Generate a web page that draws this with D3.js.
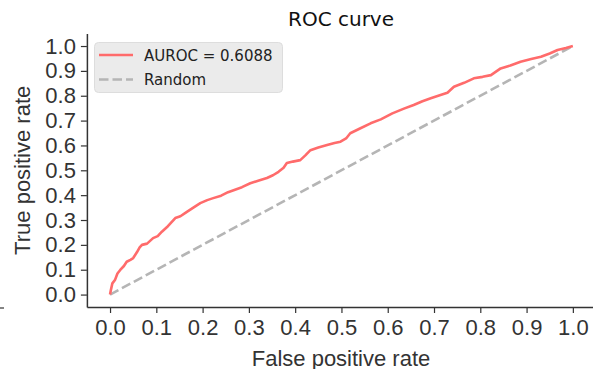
<!DOCTYPE html>
<html><head><meta charset="utf-8">
<script src="https://cdn.jsdelivr.net/npm/d3@7"></script>
<style>body{margin:0;background:#fff}svg{display:block}</style>
</head><body>
<svg id="c" width="593" height="369"></svg>
<script>
const fpr = [0,0.002,0.005,0.011,0.016,0.022,0.03,0.036,0.044,0.05,0.058,0.064,0.069,0.08,0.093,0.103,0.112,0.125,0.141,0.152,0.166,0.18,0.195,0.21,0.223,0.24,0.255,0.267,0.285,0.303,0.32,0.339,0.352,0.364,0.375,0.382,0.395,0.411,0.422,0.433,0.45,0.469,0.485,0.498,0.51,0.519,0.54,0.563,0.585,0.61,0.635,0.656,0.675,0.693,0.714,0.729,0.743,0.765,0.786,0.805,0.823,0.844,0.865,0.887,0.91,0.931,0.95,0.967,0.985,1];
const tpr = [0,0.02,0.045,0.06,0.085,0.099,0.115,0.132,0.14,0.147,0.17,0.19,0.2,0.205,0.227,0.235,0.253,0.275,0.308,0.315,0.333,0.35,0.368,0.38,0.388,0.398,0.412,0.42,0.432,0.448,0.458,0.469,0.48,0.494,0.51,0.529,0.535,0.541,0.56,0.581,0.592,0.602,0.61,0.615,0.628,0.649,0.668,0.689,0.705,0.729,0.748,0.763,0.778,0.79,0.803,0.812,0.836,0.852,0.87,0.876,0.883,0.91,0.922,0.937,0.948,0.957,0.97,0.984,0.992,1];
const randomX = [0,1];
const randomY = [0,1];
const ticks = [0,0.1,0.2,0.3,0.4,0.5,0.6,0.7,0.8,0.9,1.0];
const aurocLabel = "AUROC = 0.6088";
const randomLabel = "Random";

const svg = d3.select("#c");
const x = d3.scaleLinear().domain([-0.05,1.05]).range([86.9, 596]);
const y = d3.scaleLinear().domain([-0.05,1.05]).range([307, 33.6]);
const textCol = "#333";
const tickFont = "Liberation Sans, Arial, sans-serif";

// x axis
const gx = svg.append("g").attr("transform",`translate(0,${y(-0.05)})`)
  .call(d3.axisBottom(x).tickValues(ticks).tickFormat(d3.format(".1f")).tickSize(6).tickPadding(6).tickSizeOuter(0));
gx.select(".domain").attr("stroke",textCol).attr("stroke-width",1.5);
gx.selectAll(".tick line").attr("stroke",textCol).attr("stroke-width",1.2);
gx.selectAll(".tick text").attr("fill",textCol).style("font-family",tickFont).style("font-size","22px");

// y axis
const gy = svg.append("g").attr("transform",`translate(${x(-0.05)},0)`)
  .call(d3.axisLeft(y).tickValues(ticks).tickFormat(d3.format(".1f")).tickSize(6).tickPadding(5).tickSizeOuter(0));
gy.select(".domain").attr("stroke",textCol).attr("stroke-width",1.5);
gy.selectAll(".tick line").attr("stroke",textCol).attr("stroke-width",1.2);
gy.selectAll(".tick text").attr("fill",textCol).style("font-family",tickFont).style("font-size","22px");

// random line
svg.append("path").datum(randomX.map((d,i)=>[d,randomY[i]]))
  .attr("d", d3.line().x(d=>x(d[0])).y(d=>y(d[1])))
  .attr("fill","none").attr("stroke","#b5b5b5").attr("stroke-width",2.6).attr("stroke-dasharray","9.5,4");

// ROC
svg.append("path").datum(fpr.map((d,i)=>[d,tpr[i]]))
  .attr("d", d3.line().x(d=>x(d[0])).y(d=>y(d[1])))
  .attr("fill","none").attr("stroke","#ff6b6b").attr("stroke-width",2.6).attr("stroke-linejoin","round");

// title
svg.append("text").attr("x",341).attr("y",26).attr("text-anchor","middle")
  .style("font-family","DejaVu Sans, sans-serif").style("font-size","20px").attr("fill","#111").text("ROC curve");

// axis labels
svg.append("text").attr("x",341).attr("y",366).attr("text-anchor","middle")
  .style("font-family",tickFont).style("font-size","22px").attr("fill",textCol).text("False positive rate");
svg.append("text").attr("transform",`translate(30,${(33.6+307)/2}) rotate(-90)`).attr("text-anchor","middle")
  .style("font-family",tickFont).style("font-size","22px").attr("fill",textCol).text("True positive rate");

// artifact tick at left
svg.append("line").attr("x1",0).attr("x2",4).attr("y1",308).attr("y2",308).attr("stroke",textCol).attr("stroke-width",1.2);

// legend
const lg = svg.append("g");
lg.append("rect").attr("x",94.5).attr("y",42.5).attr("width",188).attr("height",50).attr("rx",4)
  .attr("fill","#ebebeb").attr("stroke","#dddddd");
lg.append("line").attr("x1",99).attr("x2",133).attr("y1",55).attr("y2",55).attr("stroke","#ff6b6b").attr("stroke-width",2.6);
lg.append("line").attr("x1",99).attr("x2",133).attr("y1",79.5).attr("y2",79.5).attr("stroke","#b5b5b5").attr("stroke-width",2.6).attr("stroke-dasharray","9.5,4");
lg.append("text").attr("x",144).attr("y",61).style("font-family","DejaVu Sans, sans-serif").style("font-size","15px").attr("fill","#222").text(aurocLabel);
lg.append("text").attr("x",144).attr("y",85).style("font-family","DejaVu Sans, sans-serif").style("font-size","15px").attr("fill","#222").text(randomLabel);
</script>
</body></html>
